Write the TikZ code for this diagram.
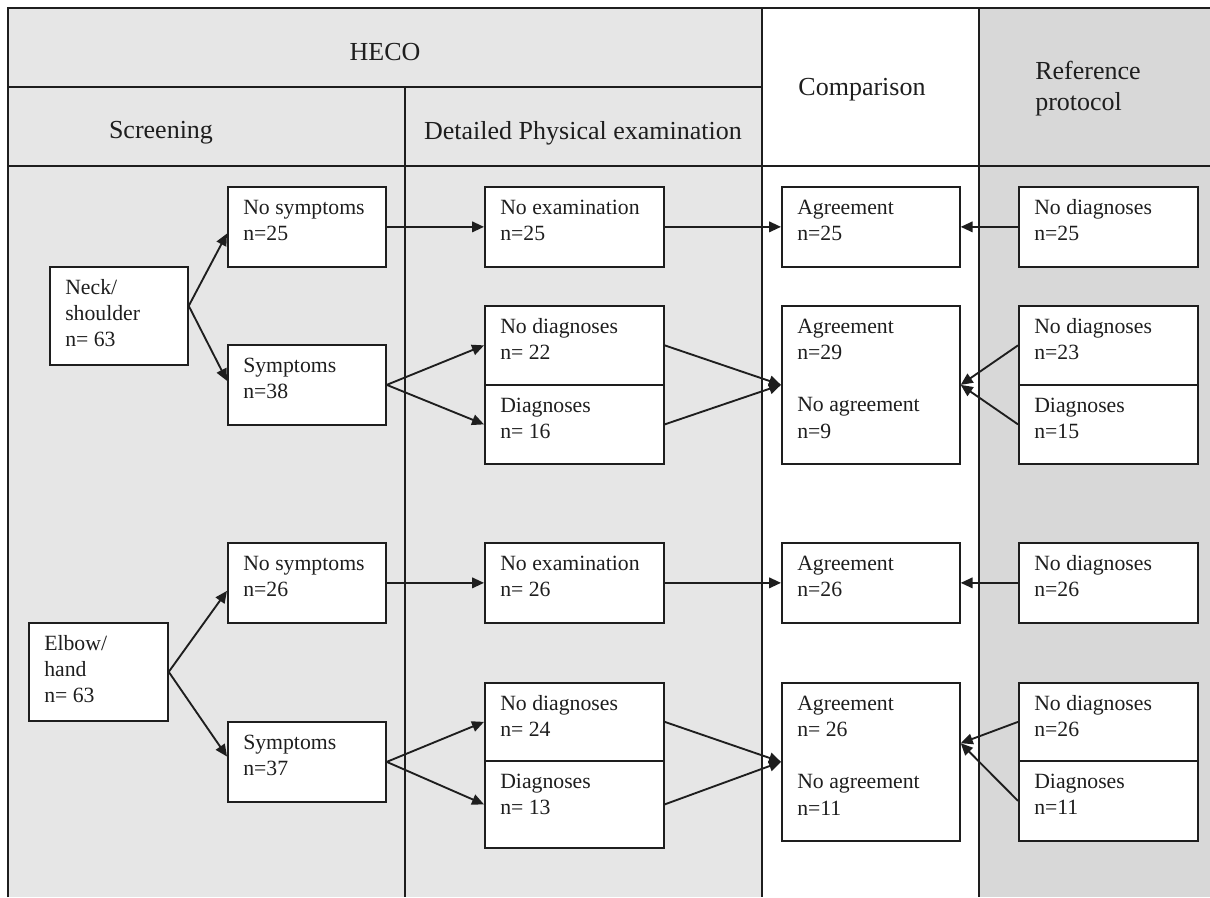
\documentclass[tikz,border=0pt]{standalone}
\usepackage{fontspec}
\setmainfont{Liberation Serif}
\usetikzlibrary{arrows.meta}
\definecolor{hecogray}{HTML}{E6E6E6}
\definecolor{refgray}{HTML}{D8D8D8}
\definecolor{ink}{HTML}{1E1E1E}
\tikzset{
  frame/.style={draw=ink, line width=1.3pt},
  box/.style={draw=ink, fill=white, line width=1.3pt, inner sep=0pt, anchor=north west},
  txt/.style={inner sep=0pt, align=left, text=ink, font=\fontsize{16.3}{19.6}\selectfont},
  head/.style={inner sep=0pt, align=left, text=ink, font=\fontsize{19.5}{23.4}\selectfont},
  arr/.style={draw=ink, line width=1.4pt, -{Triangle[length=9pt,width=8pt]}},
}
% box: name, x1, y1, x2, y2 (pixels)
\newcommand\mybox[5]{\node[box, minimum width={(#4-#2)*0.75pt}, minimum height={(#5-#3)*0.75pt}] (#1) at (#2,#3) {};}
% text inside a box: name, box name, text
\newcommand\mytext[3]{\node[txt, anchor=north west] (#1) at ([shift={(16,10)}]#2.north west) {\strut #3};}
\begin{document}
\begin{tikzpicture}[x=0.75pt,y=-0.75pt]
\useasboundingbox (0,0) rectangle (1210,897);
% backgrounds
\fill[white] (0,0) rectangle (1210,897);
\fill[hecogray] (8,8) rectangle (762,897);
\fill[white] (762,8) rectangle (979,897);
\fill[refgray] (979,8) rectangle (1210,897);
% frame lines
\draw[frame] (8,897) -- (8,8) -- (1210,8);
\draw[frame] (8,87) -- (762,87);
\draw[frame] (8,166) -- (1210,166);
\draw[frame] (405,87) -- (405,897);
\draw[frame] (762,8) -- (762,897);
\draw[frame] (979,8) -- (979,897);
% headers
\node[head] (hheco) at (385,52) {HECO};
\node[head] (hscr) at (161,133) {Screening};
\node[head] (hdet) at (583,133) {Detailed Physical examination};
\node[head] (hcmp) at (862,90) {Comparison};
\node[head, anchor=west] (href) at (1035,89) {Reference\\protocol};

% ---------- upper half ----------
\mybox{nk}{49}{266}{187}{364}
\mytext{tnk}{nk}{Neck/\\shoulder\\n= 63}
\mybox{ns1}{227}{186}{385}{266}
\mytext{tns1}{ns1}{No symptoms\\n=25}
\mybox{sy1}{227}{344}{385}{424}
\mytext{tsy1}{sy1}{Symptoms\\n=38}
\mybox{ne1}{484}{186}{663}{266}
\mytext{tne1}{ne1}{No examination\\n=25}
\mybox{nd1}{484}{305}{663}{384}
\mytext{tnd1}{nd1}{No diagnoses\\n= 22}
\mybox{dg1}{484}{384}{663}{463}
\mytext{tdg1}{dg1}{Diagnoses\\n= 16}
\mybox{ag1}{781}{186}{959}{266}
\mytext{tag1}{ag1}{Agreement\\n=25}
\mybox{ag2}{781}{305}{959}{463}
\mytext{tag2}{ag2}{Agreement\\n=29\\[19.6pt]No agreement\\n=9}
\mybox{rn1}{1018}{186}{1197}{266}
\mytext{trn1}{rn1}{No diagnoses\\n=25}
\mybox{rn2}{1018}{305}{1197}{384}
\mytext{trn2}{rn2}{No diagnoses\\n=23}
\mybox{rd2}{1018}{384}{1197}{463}
\mytext{trd2}{rd2}{Diagnoses\\n=15}

% ---------- lower half ----------
\mybox{eb}{28}{622}{167}{720}
\mytext{teb}{eb}{Elbow/\\hand\\n= 63}
\mybox{ns3}{227}{542}{385}{622}
\mytext{tns3}{ns3}{No symptoms\\n=26}
\mybox{sy3}{227}{721}{385}{801}
\mytext{tsy3}{sy3}{Symptoms\\n=37}
\mybox{ne3}{484}{542}{663}{622}
\mytext{tne3}{ne3}{No examination\\n= 26}
\mybox{nd3}{484}{682}{663}{760}
\mytext{tnd3}{nd3}{No diagnoses\\n= 24}
\mybox{dg3}{484}{760}{663}{847}
\mytext{tdg3}{dg3}{Diagnoses\\n= 13}
\mybox{ag3}{781}{542}{959}{622}
\mytext{tag3}{ag3}{Agreement\\n=26}
\mybox{ag4}{781}{682}{959}{840}
\mytext{tag4}{ag4}{Agreement\\n= 26\\[19.6pt]No agreement\\n=11}
\mybox{rn3}{1018}{542}{1197}{622}
\mytext{trn3}{rn3}{No diagnoses\\n=26}
\mybox{rn4}{1018}{682}{1197}{760}
\mytext{trn4}{rn4}{No diagnoses\\n=26}
\mybox{rd4}{1018}{760}{1197}{840}
\mytext{trd4}{rd4}{Diagnoses\\n=11}

% ---------- connectors, upper ----------
\coordinate (nkout) at ([yshift=7.5pt]nk.east);
\draw[arr] (nkout) -- ([yshift=-5pt]ns1.west);
\draw[arr] (nkout) -- ([yshift=3pt]sy1.west);
\draw[arr] (sy1.east) -- (nd1.west);
\draw[arr] (sy1.east) -- (dg1.west);
\draw[arr] (ns1.east) -- (ne1.west);
\draw[arr] (ne1.east) -- (ag1.west);
\draw[arr] (rn1.west) -- (ag1.east);
\draw[arr] (nd1.east) -- (ag2.west);
\draw[arr] (dg1.east) -- (ag2.west);
\draw[arr] (rn2.west) -- (ag2.east);
\draw[arr] (rd2.west) -- (ag2.east);

% ---------- connectors, lower ----------
\draw[arr] (eb.east) -- ([yshift=-6pt]ns3.west);
\draw[arr] (eb.east) -- ([yshift=4pt]sy3.west);
\draw[arr] (sy3.east) -- (nd3.west);
\draw[arr] (sy3.east) -- (dg3.west);
\draw[arr] (ns3.east) -- (ne3.west);
\draw[arr] (ne3.east) -- (ag3.west);
\draw[arr] (rn3.west) -- (ag3.east);
\draw[arr] (nd3.east) -- (ag4.west);
\draw[arr] (dg3.east) -- (ag4.west);
\coordinate (ag4in) at ([yshift=14pt]ag4.east);
\draw[arr] (rn4.west) -- (ag4in);
\draw[arr] (rd4.west) -- (ag4in);
\end{tikzpicture}
\end{document}
